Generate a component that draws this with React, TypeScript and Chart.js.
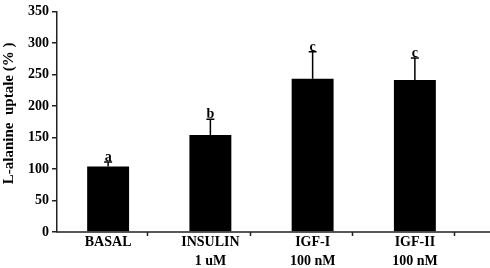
import React, { useEffect, useRef } from "react";
import { Chart, registerables } from "chart.js";

Chart.register(...registerables);

const categories: string[][] = [["BASAL"], ["INSULIN", "1 uM"], ["IGF-I", "100 nM"], ["IGF-II", "100 nM"]];
const values: number[] = [104, 154, 243, 241];
const errors: number[] = [7, 25, 43, 35];
const letters: string[] = ["a", "b", "c", "c"];
const yTicks: number[] = [0, 50, 100, 150, 200, 250, 300, 350];
const yTitle = "L-alanine  uptale (% )";

const FONT = "'Liberation Serif', 'Times New Roman', serif";
const AXIS = "#222";

const extras = {
  id: "extras",
  afterDatasetsDraw(chart: any) {
    const ctx = chart.ctx;
    const meta = chart.getDatasetMeta(0);
    const ys = chart.scales.y;
    ctx.save();
    ctx.strokeStyle = "#000";
    ctx.fillStyle = "#000";
    ctx.lineWidth = 1.5;
    ctx.font = `bold 14px ${FONT}`;
    ctx.textAlign = "center";
    ctx.textBaseline = "alphabetic";
    meta.data.forEach((bar: any, i: number) => {
      const x = bar.x;
      const yb = ys.getPixelForValue(values[i]);
      const yt = ys.getPixelForValue(values[i] + errors[i]);
      ctx.beginPath();
      ctx.moveTo(x, yb);
      ctx.lineTo(x, yt);
      ctx.moveTo(x - 4, yt);
      ctx.lineTo(x + 4, yt);
      ctx.stroke();
      ctx.fillText(letters[i], x, yt - 1);
    });
    ctx.restore();
  },
  afterDraw(chart: any) {
    const ctx = chart.ctx;
    const area = chart.chartArea;
    const meta = chart.getDatasetMeta(0);
    const catW = (area.right - area.left) / categories.length;
    ctx.save();
    ctx.strokeStyle = AXIS;
    ctx.lineWidth = 1.5;
    ctx.beginPath();
    ctx.moveTo(area.left - 0.75, area.bottom);
    ctx.lineTo(chart.width, area.bottom);
    meta.data.forEach((bar: any) => {
      const tx = Math.round(bar.x + 0.385 * catW) + 0.5;
      ctx.moveTo(tx, area.bottom);
      ctx.lineTo(tx, area.bottom + 4);
    });
    ctx.stroke();
    ctx.fillStyle = "#000";
    ctx.font = `bold 15px ${FONT}`;
    ctx.textAlign = "center";
    ctx.textBaseline = "middle";
    ctx.translate(9, area.top + (area.bottom - area.top) * 0.462);
    ctx.rotate(-Math.PI / 2);
    ctx.fillText(yTitle, 0, 0);
    ctx.restore();
  },
};

export default function App() {
  const ref = useRef<HTMLCanvasElement>(null);
  useEffect(() => {
    if (!ref.current) return;
    const chart = new Chart(ref.current, {
      type: "bar",
      data: {
        labels: categories,
        datasets: [
          {
            data: values,
            backgroundColor: "#000",
            borderWidth: 0,
            categoryPercentage: 1,
            barPercentage: 0.41,
          },
        ],
      },
      options: {
        responsive: false,
        animation: false,
        layout: { padding: { top: 10, right: 24, bottom: 0, left: 0 } },
        plugins: { legend: { display: false }, tooltip: { enabled: false } },
        scales: {
          x: {
            type: "category",
            grid: { display: false },
            border: { display: false },
            ticks: {
              color: "#000",
              padding: -7,
              maxRotation: 0,
              autoSkip: false,
              font: { family: FONT, weight: "bold", size: 14, lineHeight: 1.36 },
            },
            afterFit(scale: any) {
              scale.height = 36;
            },
          },
          y: {
            min: 0,
            max: 350,
            afterBuildTicks(scale: any) {
              scale.ticks = yTicks.map((v) => ({ value: v }));
            },
            grid: {
              display: true,
              drawOnChartArea: false,
              drawTicks: true,
              tickLength: 5,
              color: AXIS,
              lineWidth: 1.5,
            },
            border: { display: true, color: AXIS, width: 1.5 },
            ticks: {
              color: "#000",
              padding: 3,
              font: { family: FONT, weight: "bold", size: 14 },
            },
            afterFit(scale: any) {
              scale.width = 57;
            },
          },
        },
      },
      plugins: [extras],
    });
    return () => chart.destroy();
  }, []);
  return (
    <canvas
      ref={ref}
      width={490}
      height={268}
      style={{ position: "absolute", left: 0, top: 0, display: "block" }}
    />
  );
}
